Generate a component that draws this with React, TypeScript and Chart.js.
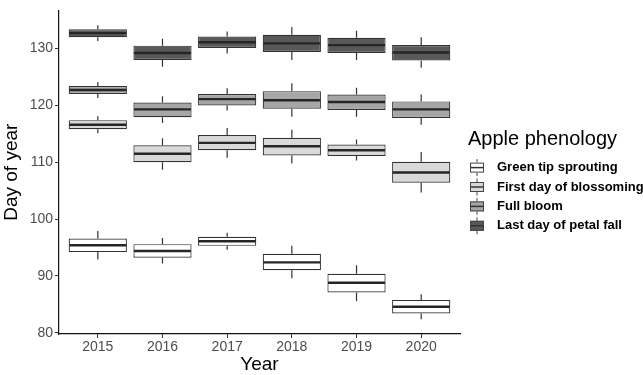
import React, { useEffect, useRef } from "react";
import { Chart, registerables } from "chart.js";

Chart.register(...registerables);

const FONT = "'Liberation Sans', Arial, sans-serif";

const years = ["2015", "2016", "2017", "2018", "2019", "2020"];
const seriesNames = [
  "Green tip sprouting",
  "First day of blossoming",
  "Full bloom",
  "Last day of petal fall",
];
const seriesFills = ["#FFFFFF", "#D9D9D9", "#A6A6A6", "#595959"];

// Per year: [lower whisker, Q1, median, Q3, upper whisker]
const greenTip = [
  [92.9, 94.2, 95.4, 96.6, 97.9],
  [92.2, 93.2, 94.4, 95.6, 96.7],
  [94.6, 95.3, 96.1, 96.9, 97.6],
  [89.6, 91.0, 92.4, 93.9, 95.3],
  [85.6, 87.1, 88.8, 90.4, 91.9],
  [82.4, 83.4, 84.6, 85.8, 86.8],
];
const firstBlossom = [
  [115.1, 115.8, 116.6, 117.4, 118.1],
  [108.7, 110.0, 111.5, 113.0, 114.2],
  [110.8, 112.1, 113.4, 114.8, 116.0],
  [109.8, 111.2, 112.8, 114.3, 115.7],
  [110.3, 111.1, 112.1, 113.1, 114.0],
  [104.7, 106.4, 108.2, 110.1, 111.8],
];
const fullBloom = [
  [121.3, 122.0, 122.7, 123.4, 124.1],
  [116.9, 117.9, 119.3, 120.5, 121.6],
  [119.1, 120.0, 121.1, 122.0, 123.0],
  [118.0, 119.4, 120.9, 122.5, 123.9],
  [118.0, 119.2, 120.6, 121.9, 123.1],
  [116.6, 117.8, 119.3, 120.7, 121.9],
];
const petalFall = [
  [131.3, 132.0, 132.7, 133.4, 134.1],
  [126.8, 128.0, 129.2, 130.5, 131.7],
  [129.1, 130.1, 131.1, 132.1, 133.0],
  [128.0, 129.4, 130.9, 132.4, 133.8],
  [128.0, 129.2, 130.6, 131.9, 133.1],
  [126.6, 127.9, 129.3, 130.6, 132.0],
];
const yTicks = [80, 90, 100, 110, 120, 130];

const allSeries = [greenTip, firstBlossom, fullBloom, petalFall];

// Whiskers and median lines on top of the Q1–Q3 floating bars
const boxWhiskerPlugin = {
  id: "boxWhiskers",
  afterDatasetsDraw(chart: any) {
    const { ctx } = chart;
    const y = chart.scales.y;
    chart.data.datasets.forEach((ds: any, di: number) => {
      const meta = chart.getDatasetMeta(di);
      meta.data.forEach((bar: any, i: number) => {
        const [lo, , med, , hi] = ds.stats[i];
        const q1 = ds.stats[i][1];
        const q3 = ds.stats[i][3];
        const { x, width } = bar.getProps(["x", "width"], true);
        ctx.save();
        ctx.strokeStyle = "#333333";
        ctx.lineWidth = 1.2;
        ctx.beginPath();
        ctx.moveTo(x, y.getPixelForValue(q3));
        ctx.lineTo(x, y.getPixelForValue(hi));
        ctx.moveTo(x, y.getPixelForValue(q1));
        ctx.lineTo(x, y.getPixelForValue(lo));
        ctx.stroke();
        ctx.strokeStyle = "#262626";
        ctx.lineWidth = 2.4;
        const ym = y.getPixelForValue(med);
        ctx.beginPath();
        ctx.moveTo(x - width / 2 + 0.6, ym);
        ctx.lineTo(x + width / 2 - 0.6, ym);
        ctx.stroke();
        ctx.restore();
      });
    });
  },
};

// Legend with boxplot keys, placed to the right of the plot
const phenologyLegend = {
  id: "phenologyLegend",
  afterDraw(chart: any) {
    const { ctx } = chart;
    const left = chart.chartArea.right + 8;
    ctx.save();
    ctx.fillStyle = "#000000";
    ctx.font = `20px ${FONT}`;
    ctx.textBaseline = "alphabetic";
    ctx.textAlign = "left";
    ctx.fillText("Apple phenology", left, 144.5);
    seriesNames.forEach((name, k) => {
      const cy = 167.6 + k * 19.4;
      const kx = left + 2;
      const kw = 14;
      const cx = kx + kw / 2;
      ctx.strokeStyle = "#444444";
      ctx.lineWidth = 1;
      ctx.beginPath();
      ctx.moveTo(cx, cy - 8.5);
      ctx.lineTo(cx, cy - 5);
      ctx.moveTo(cx, cy + 5);
      ctx.lineTo(cx, cy + 8.5);
      ctx.stroke();
      ctx.fillStyle = seriesFills[k];
      ctx.fillRect(kx, cy - 5, kw, 10);
      ctx.strokeRect(kx + 0.5, cy - 4.5, kw - 1, 9);
      ctx.strokeStyle = "#333333";
      ctx.lineWidth = 1.5;
      ctx.beginPath();
      ctx.moveTo(kx + 1, cy);
      ctx.lineTo(kx + kw - 1, cy);
      ctx.stroke();
      ctx.fillStyle = "#000000";
      ctx.font = `bold 13px ${FONT}`;
      ctx.textBaseline = "middle";
      ctx.fillText(name, left + 29, cy);
    });
    ctx.restore();
  },
};

export default function App() {
  const canvasRef = useRef<HTMLCanvasElement | null>(null);

  useEffect(() => {
    if (!canvasRef.current) return;
    Chart.defaults.font.family = FONT;

    const datasets = allSeries.map((series, k) => ({
      label: seriesNames[k],
      data: series.map((s, i) => ({ x: i, y: [s[1], s[3]] })),
      stats: series,
      backgroundColor: seriesFills[k],
      borderColor: "#333333",
      borderWidth: 1.2,
      borderSkipped: false,
      grouped: false,
      barPercentage: 0.9,
      categoryPercentage: 1.0,
    }));

    const chart = new Chart(canvasRef.current, {
      type: "bar",
      data: { datasets } as any,
      options: {
        responsive: false,
        animation: false,
        layout: { padding: { left: 0, right: 183, top: 7.4, bottom: 0 } },
        plugins: {
          legend: { display: false },
          tooltip: { enabled: false },
        },
        scales: {
          x: {
            type: "linear",
            min: -0.6,
            max: 5.6,
            offset: false,
            afterBuildTicks: (s: any) => {
              s.ticks = years.map((_, i) => ({ value: i }));
            },
            afterFit: (s: any) => {
              s.height = 41;
            },
            ticks: {
              callback: (v: any) => years[v] ?? "",
              color: "#4D4D4D",
              font: { size: 14 },
              padding: 1,
              autoSkip: false,
              maxRotation: 0,
            },
            grid: {
              display: true,
              offset: false,
              drawOnChartArea: false,
              drawTicks: true,
              tickLength: 4,
              color: "#333333",
            },
            border: { display: true, color: "#111111", width: 1.2 },
            title: {
              display: true,
              text: "Year",
              color: "#000000",
              font: { size: 19, lineHeight: 1 },
              padding: { top: 0, bottom: 1 },
            },
          },
          y: {
            min: 79.8,
            max: 136.7,
            afterBuildTicks: (s: any) => {
              s.ticks = yTicks.map((v) => ({ value: v }));
            },
            afterFit: (s: any) => {
              s.width = 59;
            },
            ticks: { color: "#4D4D4D", font: { size: 14 }, padding: 2 },
            grid: {
              display: true,
              drawOnChartArea: false,
              drawTicks: true,
              tickLength: 4,
              color: "#333333",
            },
            border: { display: true, color: "#111111", width: 1.2 },
            title: {
              display: true,
              text: "Day of year",
              color: "#000000",
              font: { size: 19, lineHeight: 1 },
              padding: { top: 2, bottom: 0 },
            },
          },
        },
      } as any,
      plugins: [boxWhiskerPlugin, phenologyLegend],
    });

    return () => chart.destroy();
  }, []);

  return (
    <div
      style={{
        position: "fixed",
        left: 0,
        top: 0,
        width: 643,
        height: 375,
        background: "#ffffff",
      }}
    >
      <canvas
        ref={canvasRef}
        width={643}
        height={375}
        style={{ display: "block", width: 643, height: 375 }}
      />
    </div>
  );
}
